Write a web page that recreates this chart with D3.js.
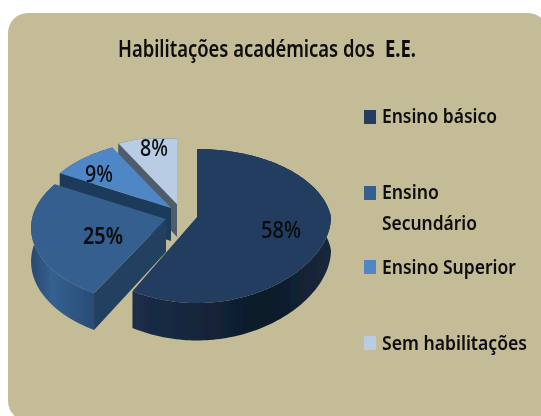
<!DOCTYPE html>
<html>
<head>
<meta charset="utf-8">
<script src="https://cdn.jsdelivr.net/npm/d3@7"></script>
<style>
html, body { margin: 0; padding: 0; background: #fff; }
svg { display: block; }
text { font-family: "Noto Sans", sans-serif; fill: #0a0a0a; }
</style>
</head>
<body>
<div id="chart"></div>
<script>
// data
const categories = ["Ensino básico", "Ensino Secundário", "Ensino Superior", "Sem habilitações"];
const shares = [58, 25, 9, 8];
const shareLabels = ["58%", "25%", "9%", "8%"];
const chartTitle = "Habilitações académicas dos";
const chartTitleEnd = "E.E.";

// colours per slice
const topColors = ["#233e5f", "#355e8f", "#4f86c6", "#b8cce4"];
const wallColors = ["#15263b", "#24405f", "#1f3a5a", "#4f5c6b"];
const sideStops = [
    ["#1b2e49", "#14253a", "#0d1a27", "#16283c"],
    ["#294a72", "#35608f", "#2f5683", "#2a4c76"],
    ["#24426a", "#24426a", "#24426a", "#24426a"],
    ["#4f5c6b", "#4f5c6b", "#4f5c6b", "#4f5c6b"]
];

// layout of the page
const width = 541, height = 416;
const rx = 134, ry = 76, persp = 0.117, depth = 33;
const apexes = [[197, 217], [166, 219], [171, 208], [177, 204]];
const xPersp = [0, 1, 1, 1];
const labelPos = [[261, 238], [83, 244], [85, 182], [140, 156]];
const labelWeight = [500, 600, 500, 500];
const legendRows = [
    { y: 110, lines: [["Ensino básico", 123, 115]] },
    { y: 186, lines: [["Ensino", 199, 57], ["Secundário", 230, 95]] },
    { y: 260, lines: [["Ensino Superior", 274, 134]] },
    { y: 336, lines: [["Sem habilitações", 350, 145]] }
];

const svg = d3.select("#chart").append("svg")
    .attr("width", width)
    .attr("height", height);

const defs = svg.append("defs");
defs.append("filter").attr("id", "soft")
    .append("feGaussianBlur").attr("stdDeviation", 0.45);
defs.append("clipPath").attr("id", "topCut")
    .append("rect")
    .attr("x", 0).attr("y", 138.5)
    .attr("width", width).attr("height", height);

svg.append("rect")
    .attr("x", 8).attr("y", 13)
    .attr("width", 540).attr("height", 408)
    .attr("rx", 20)
    .attr("fill", "#c4bc96");

const slices = d3.pie().sort(null).value(d => d)(shares);

// angle on the pie plane -> screen point, with a little perspective
function project(i, a, r, drop) {
    const apex = apexes[i];
    const u = Math.sin(a) * r, v = -Math.cos(a) * r;
    const s = 1 / (1 - persp * v);
    const sx = v > 0 && !xPersp[i] ? 1 : s;
    return [apex[0] + u * rx * sx, apex[1] + v * ry * s + drop * s];
}
function arcPoints(i, a0, a1, drop) {
    const n = Math.max(2, Math.ceil((a1 - a0) * 40));
    return d3.range(n + 1).map(k => project(i, a0 + (a1 - a0) * k / n, 1, drop));
}
const line = d3.line();

// squeeze a text sideways to the wanted width, the installed fonts are wider than the original
function putText(parent, str, x, y, size, weight, w) {
    const t = parent.append("text")
        .attr("font-size", size)
        .attr("font-weight", weight)
        .text(str);
    const k = w / t.node().getComputedTextLength();
    t.attr("transform", "translate(" + x + "," + y + ") scale(" + k + ",1)");
    return t;
}

// back slices first so the front ones cover them
const order = [3, 2, 1, 0];
const pie = svg.append("g").attr("filter", "url(#soft)");

order.forEach(i => {
    const d = slices[i], apex = apexes[i];
    const g = pie.append("g");
    if (i === 3) g.attr("clip-path", "url(#topCut)");

    // outer rim
    const rimTop = arcPoints(i, d.startAngle, d.endAngle, 0);
    const rimBottom = arcPoints(i, d.startAngle, d.endAngle, depth).reverse();
    const xs = d3.extent(rimTop, p => p[0]);
    const gradId = "rim" + i;
    const grad = defs.append("linearGradient").attr("id", gradId)
        .attr("gradientUnits", "userSpaceOnUse")
        .attr("x1", xs[0]).attr("x2", xs[1]).attr("y1", 0).attr("y2", 0);
    sideStops[i].forEach((c, k) => {
        grad.append("stop").attr("offset", k / (sideStops[i].length - 1)).attr("stop-color", c);
    });
    g.append("path")
        .attr("d", line(rimTop.concat(rimBottom)) + "Z")
        .attr("fill", "url(#" + gradId + ")");

    // cut wall along the start edge, not seen on the big slice
    if (i > 0) {
        const edge = project(i, d.startAngle, 1, 0);
        const edgeLow = project(i, d.startAngle, 1, depth);
        const low = project(i, 0, 0, depth);
        g.append("path")
            .attr("d", line([apex, edge, edgeLow, low]) + "Z")
            .attr("fill", wallColors[i]);
    }

    // top face
    g.append("path")
        .attr("d", line([apex].concat(rimTop)) + "Z")
        .attr("fill", topColors[i]);
});

// share labels
const labels = svg.append("g").attr("filter", "url(#soft)");
shareLabels.forEach((t, i) => {
    const holder = i === 3 ? labels.append("g").attr("clip-path", "url(#topCut)") : labels;
    putText(holder, t, labelPos[i][0], labelPos[i][1], 24, labelWeight[i], t.length === 3 ? 40 : 28);
});

// title
const titleGroup = svg.append("g").attr("filter", "url(#soft)");
putText(titleGroup, chartTitle, 118, 57, 23, 600, 257);
putText(titleGroup, chartTitleEnd, 385, 57, 23, 700, 31);

// legend
const legend = svg.append("g").attr("filter", "url(#soft)");
legendRows.forEach((row, i) => {
    legend.append("rect")
        .attr("x", 364).attr("y", row.y)
        .attr("width", 12).attr("height", 14)
        .attr("fill", topColors[i]);
    row.lines.forEach(l => {
        putText(legend, l[0], 382, l[1], 20, 600, l[2]);
    });
});
</script>
</body>
</html>
